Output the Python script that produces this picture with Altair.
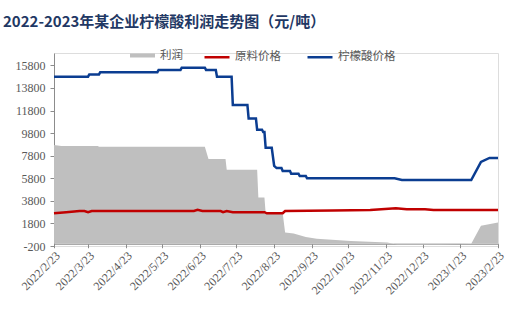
import altair as alt
import pandas as pd

# ---- data ----
acid_dates = ["2022-02-23", "2022-03-23", "2022-03-24", "2022-04-01", "2022-04-02", "2022-05-19",
              "2022-05-20", "2022-06-07", "2022-06-08", "2022-06-27", "2022-06-28", "2022-07-06",
              "2022-07-07", "2022-07-19", "2022-07-20", "2022-08-01", "2022-08-02", "2022-08-08",
              "2022-08-09", "2022-08-13", "2022-08-14", "2022-08-15", "2022-08-16", "2022-08-21",
              "2022-08-23", "2022-08-25", "2022-08-29", "2022-08-30", "2022-09-05", "2022-09-06",
              "2022-09-12", "2022-09-13", "2022-09-18", "2022-09-19", "2022-11-30", "2022-12-06",
              "2023-02-01", "2023-02-09", "2023-02-16", "2023-02-23"]
acid_vals = [14800, 14800, 15000, 15000, 15200, 15200,
             15400, 15400, 15600, 15600, 15400, 15400,
             14800, 14800, 12300, 12300, 11100, 11100,
             10100, 10100, 9900, 9900, 8500, 8500,
             6900, 6700, 6700, 6450, 6450, 6200,
             6200, 6000, 6000, 5800, 5800, 5650,
             5650, 7250, 7600, 7600]

raw_dates = ["2022-02-23", "2022-03-05", "2022-03-16", "2022-03-20", "2022-03-23", "2022-03-26",
             "2022-06-18", "2022-06-21", "2022-06-25", "2022-07-10", "2022-07-12", "2022-07-15",
             "2022-07-20", "2022-08-15", "2022-08-17", "2022-08-30", "2022-09-01", "2022-10-10",
             "2022-11-10", "2022-12-01", "2022-12-10", "2022-12-25", "2023-01-01", "2023-02-23"]
raw_vals = [2700, 2800, 2900, 2900, 2800, 2900,
            2900, 3000, 2900, 2900, 2800, 2900,
            2800, 2800, 2700, 2700, 2900, 2950,
            3000, 3150, 3050, 3050, 3000, 3000]

profit_dates = ["2022-02-23", "2022-03-01", "2022-03-31", "2022-04-01", "2022-06-27", "2022-06-30",
                "2022-07-14", "2022-07-15", "2022-08-09", "2022-08-10", "2022-08-15", "2022-08-16",
                "2022-08-30", "2022-09-01", "2022-09-08", "2022-09-18", "2022-09-27", "2022-10-25",
                "2022-11-24", "2022-12-02", "2023-01-06", "2023-02-01", "2023-02-09", "2023-02-23"]
profit_vals = [8750, 8650, 8650, 8600, 8600, 7500,
               7500, 6550, 6550, 4100, 4100, 2700,
               2700, 1000, 900, 600, 450, 250,
               100, -60, -60, 0, 1600, 1880]

x_tick_dates = ["2022-02-23", "2022-03-23", "2022-04-23", "2022-05-23", "2022-06-23", "2022-07-23",
                "2022-08-23", "2022-09-23", "2022-10-23", "2022-11-23", "2022-12-23", "2023-01-23",
                "2023-02-23"]
y_ticks = [-200, 1800, 3800, 5800, 7800, 9800, 11800, 13800, 15800]

series_names = ["利润", "原料价格", "柠檬酸价格"]
title_text = "2022-2023年某企业柠檬酸利润走势图（元/吨）"


def dt(s):
    y, m, d = (int(p) for p in s.split("-"))
    return alt.DateTime(year=y, month=m, date=d)


def ts(s):
    return s + "T00:00:00"


profit_df = pd.DataFrame({"date": [ts(d) for d in profit_dates], "value": profit_vals,
                          "series": series_names[0]})
price_df = pd.concat([
    pd.DataFrame({"date": [ts(d) for d in raw_dates], "value": raw_vals, "series": series_names[1]}),
    pd.DataFrame({"date": [ts(d) for d in acid_dates], "value": acid_vals, "series": series_names[2]}),
])

W, H = 444, 193
Y_MIN, Y_MAX = -200, 16900
axis_shift = -H * (0 - Y_MIN) / (Y_MAX - Y_MIN)

AX_COLOR = "#8C8C8C"
LBL_COLOR = "#595959"

x_enc = alt.X(
    "date:T",
    scale=alt.Scale(domain=[dt(x_tick_dates[0]), dt(x_tick_dates[-1])]),
    axis=alt.Axis(values=[dt(d) for d in x_tick_dates], format="%Y/%-m/%-d", labelAngle=-45,
                  labelAlign="right", labelBaseline="top", tickSize=4, offset=axis_shift,
                  grid=False, title=None, labelFont="Liberation Serif", labelFontSize=12,
                  labelColor=LBL_COLOR, domainColor=AX_COLOR, tickColor=AX_COLOR,
                  labelPadding=2, labelOverlap=False, labelFlush=False),
)
y_enc = alt.Y(
    "value:Q",
    scale=alt.Scale(domain=[Y_MIN, Y_MAX], nice=False, zero=False),
    axis=alt.Axis(values=y_ticks, labelExpr="'' + datum.value", grid=False, title=None,
                  tickSize=4, labelFont="Liberation Serif", labelFontSize=12,
                  labelColor=LBL_COLOR, domainColor=AX_COLOR, tickColor=AX_COLOR,
                  labelPadding=5, labelFlush=False, labelOverlap=False),
)

area = alt.Chart(profit_df).mark_area(opacity=1, interpolate="linear").encode(
    x=x_enc,
    y=y_enc,
    y2=alt.datum(0),
    color=alt.Color("series:N",
                    scale=alt.Scale(domain=[series_names[0]], range=["#BFBFBF"]),
                    legend=alt.Legend(title=None, orient="none", legendX=76, legendY=-10,
                                      direction="horizontal",
                                      symbolType="M-1,-0.16H1V0.16H-1Z", symbolSize=625,
                                      symbolStrokeWidth=0, labelFont="Noto Sans CJK SC",
                                      labelFontSize=11.5, labelColor=LBL_COLOR, labelOffset=5,
                                      padding=0)),
)

lines = alt.Chart(price_df).mark_line(strokeWidth=2.5).encode(
    x=x_enc,
    y=y_enc,
    color=alt.Color("series:N",
                    scale=alt.Scale(domain=series_names[1:], range=["#C00000", "#0B3D91"]),
                    legend=alt.Legend(title=None, orient="none", legendX=149, legendY=-10,
                                      direction="horizontal", symbolType="stroke",
                                      symbolSize=625, symbolStrokeWidth=2.5,
                                      labelFont="Noto Sans CJK SC", labelFontSize=11.5,
                                      labelColor=LBL_COLOR, labelOffset=4, columnPadding=21,
                                      padding=0)),
)

chart = alt.layer(area, lines).resolve_scale(color="independent").properties(
    width=W,
    height=H,
    autosize=alt.AutoSizeParams(type="none"),
    padding={"left": 54, "top": 53, "right": 28, "bottom": 74},
    title=alt.Title(title_text, anchor="start", frame="group", dx=-51, offset=13,
                    font="Noto Sans CJK SC", fontSize=15, fontWeight="bold", color="#1F3864"),
).configure_view(stroke=None).configure(background="white")

chart.save("out.html", embed_options={"renderer": "svg", "actions": False})
